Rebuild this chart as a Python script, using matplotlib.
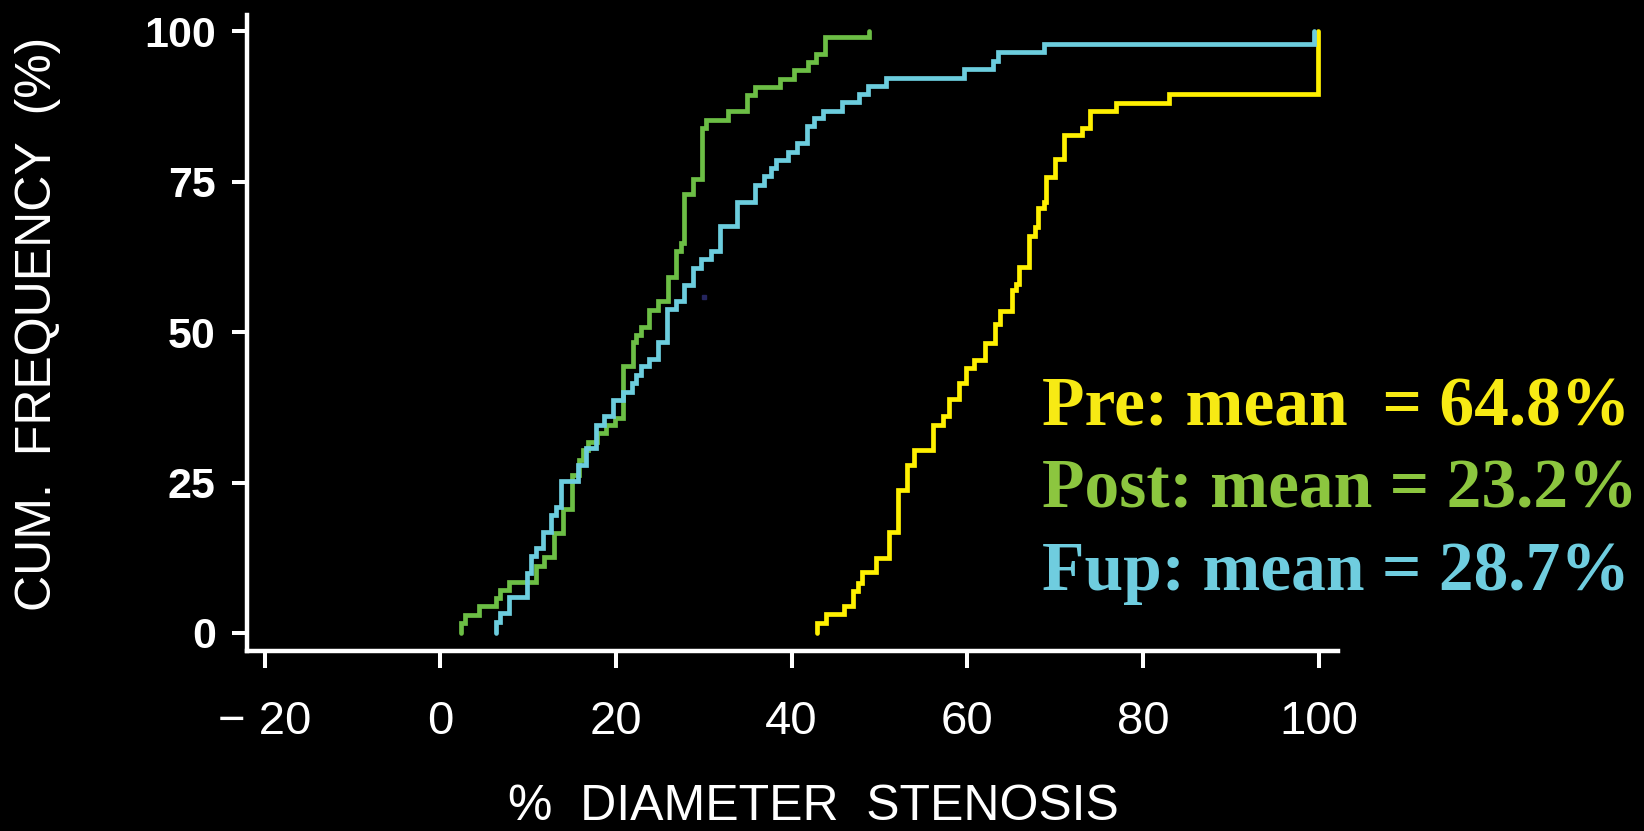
import matplotlib.pyplot as plt

# cumulative frequency curves: x = % stenosis where the curve steps up,
# y = cumulative % reached after that step
pre_x = [42.9, 43.9, 46.0, 47.0, 47.6, 48.0, 49.6, 51.1, 52.1, 53.1,
         53.9, 56.15, 57.2, 57.9, 59.0, 59.9, 60.8, 62.0, 63.1, 63.7,
         65.1, 65.6, 65.9, 67.0, 67.7, 68.1, 68.7, 68.95, 70.0, 71.0,
         73.0, 74.0, 76.9, 83.0, 99.9]
pre_y = [1.7, 3.1, 4.5, 6.9, 8.3, 10.1, 12.5, 16.7, 23.7, 27.9,
         30.4, 34.6, 36.0, 38.8, 41.6, 44.0, 45.4, 48.2, 51.4, 53.5,
         57.0, 58.0, 60.8, 66.0, 67.4, 70.6, 71.7, 75.8, 78.7, 82.8,
         83.9, 86.7, 88.1, 89.5, 100.0]

post_x = [2.4, 2.8, 4.4, 6.4, 6.8, 7.8, 10.9, 11.85, 13.0, 14.0,
          15.0, 15.8, 16.3, 16.85, 17.8, 18.9, 19.85, 20.8, 21.9, 22.3,
          22.8, 23.8, 24.8, 25.9, 26.85, 27.4, 27.8, 28.8, 29.85, 30.2,
          32.8, 34.9, 35.8, 38.7, 40.25, 41.9, 42.8, 43.8, 48.8]
post_y = [1.6, 3.0, 4.4, 5.8, 7.2, 8.5, 11.1, 12.6, 16.6, 20.6,
          26.3, 28.8, 30.4, 31.8, 33.2, 34.6, 35.8, 44.3, 48.3, 49.6,
          50.8, 53.7, 55.1, 59.2, 63.4, 64.8, 73.0, 75.5, 83.9, 85.3,
          86.7, 89.4, 90.7, 92.1, 93.5, 94.9, 96.3, 99.0, 100.0]

fup_x = [6.3, 6.8, 7.8, 9.9, 10.3, 10.9, 11.7, 12.65, 13.2, 13.7,
         15.7, 16.6, 17.7, 18.6, 19.7, 20.8, 21.8, 22.25, 22.8, 23.8,
         24.8, 25.8, 26.85, 27.8, 28.8, 29.7, 30.8, 31.8, 33.8, 35.8,
         36.8, 37.7, 38.2, 39.6, 40.6, 41.7, 42.6, 43.6, 45.7, 47.65,
         48.65, 50.7, 59.6, 62.9, 63.5, 68.7, 99.5]
fup_y = [1.9, 3.3, 6.0, 10.0, 12.8, 14.2, 16.8, 19.6, 21.0, 25.2,
         27.9, 30.7, 34.6, 36.0, 38.7, 40.1, 41.5, 42.9, 44.3, 45.6,
         48.3, 53.8, 55.1, 57.9, 60.7, 62.1, 63.5, 67.6, 71.7, 74.5,
         75.9, 77.3, 78.6, 79.9, 81.4, 84.2, 85.5, 86.8, 88.2, 89.6,
         90.9, 92.2, 93.7, 95.1, 96.5, 97.9, 100.0]

labels = ["Pre: mean  = 64.8%", "Post: mean = 23.2%", "Fup: mean = 28.7%"]
x_ticks = [-20, 0, 20, 40, 60, 80, 100]
x_ticklabels = ["\u2212 20", "0", "20", "40", "60", "80", "100"]
y_ticks = [0, 25, 50, 75, 100]

plt.rcParams['font.family'] = ['Liberation Sans', 'DejaVu Sans']

fig = plt.figure(figsize=(16.44, 8.31), dpi=100, facecolor='black')
ax = fig.add_axes([247/1644, 1 - 651/831, (1338 - 247)/1644, (651 - 15)/831])
ax.set_facecolor('black')

line_cols = ['#FFF000', '#6CBE45', '#6CCDDE']
text_cols = ['#F7EA14', '#8CC63F', '#6FCDDF']

for xs, ys, c in [(pre_x, pre_y, line_cols[0]),
                  (post_x, post_y, line_cols[1]),
                  (fup_x, fup_y, line_cols[2])]:
    ax.step([xs[0]] + xs, [0] + ys, where='post', color=c, lw=3.4,
            solid_capstyle='round', solid_joinstyle='miter')

# small stray mark seen in the original
ax.plot([30.06], [55.9], marker='s', ms=3.5, color='#25255e', ls='none')

ax.set_xlim(-22.0, 102.2)
ax.set_ylim(-3.0, 102.7)

for s in ['top', 'right']:
    ax.spines[s].set_visible(False)
for s in ['left', 'bottom']:
    ax.spines[s].set_color('white')
    ax.spines[s].set_linewidth(3.2)
    ax.spines[s].set_capstyle('projecting')

ax.set_xticks(x_ticks)
ax.set_xticklabels(x_ticklabels)
ax.set_yticks(y_ticks)
ax.tick_params(axis='x', length=12, width=2.9, pad=23, labelsize=34,
               colors='white')
ax.tick_params(axis='y', length=10.5, width=2.9, pad=12, labelsize=31,
               colors='white')
for lbl in ax.get_yticklabels():
    lbl.set_fontweight('bold')

fig.text(38/1644, 1 - 324/831, "CUM.  FREQUENCY  (%)", rotation=90,
         ha='center', va='center', fontsize=36, color='white')
fig.text(813/1644, 1 - 820/831, "%  DIAMETER  STENOSIS",
         ha='center', va='baseline', fontsize=36, color='white')

for i, (txt, c) in enumerate(zip(labels, text_cols)):
    fig.text(1042/1644, 1 - (425 + 82.5*i)/831, txt, ha='left',
             va='baseline', fontsize=50, fontweight='bold', color=c,
             family=['Liberation Serif', 'DejaVu Serif'])

fig.savefig('out.png', dpi=100, facecolor='black')
